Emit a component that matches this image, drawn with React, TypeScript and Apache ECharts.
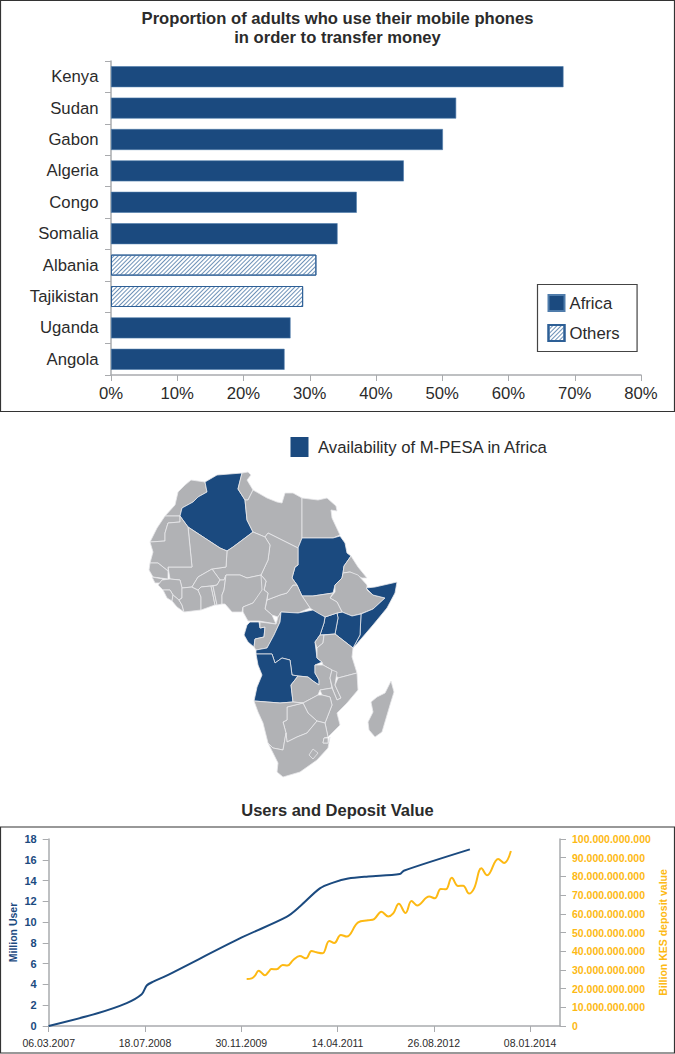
import React, { useEffect, useRef } from "react";
import * as echarts from "echarts";

const BLUE = "#1b4a7f";
const YELLOW = "#fdb913";
const GREY = "#b1b2b5";
const AXIS = "#a9abae";
const INK = "#2b2b2b";
const FONT = "'Liberation Sans', Arial, sans-serif";

const countries = ["Kenya", "Sudan", "Gabon", "Algeria", "Congo", "Somalia", "Albania", "Tajikistan", "Uganda", "Angola"];
const africaValues = [68.3, 52.1, 50.1, 44.2, 37.1, 34.2, null, null, 27.1, 26.2];
const otherValues = [null, null, null, null, null, null, 31.0, 29.0, null, null];

const dateLabels = ["06.03.2007", "18.07.2008", "30.11.2009", "14.04.2011", "26.08.2012", "08.01.2014"];
const dateTicks = [0, 500, 1000, 1500, 2000, 2500];

const userDays = [0, 249, 405, 483, 509, 543, 612, 1000, 1235, 1304, 1408, 1477, 1555, 1659, 1823, 1844, 2187];
const userValues = [0, 1.2, 2.2, 3.05, 3.9, 4.27, 4.85, 8.5, 10.5, 11.5, 13.25, 13.8, 14.2, 14.4, 14.63, 14.95, 17.0];

const depositDays = [1028, 1054, 1071, 1090, 1105, 1123, 1140, 1157, 1183, 1215, 1239, 1270, 1304, 1336, 1365, 1391, 1422, 1457, 1483, 1517, 1547, 1607, 1659, 1690, 1728, 1763, 1789, 1818, 1853, 1884, 1913, 1976, 2005, 2036, 2062, 2093, 2126, 2152, 2183, 2209, 2247, 2277, 2334, 2365, 2400];
const depositValues = [25.1, 25.5, 26.9, 29.6, 28.5, 27.1, 28.7, 30.5, 30.3, 32.6, 32.3, 35.3, 37.4, 36.2, 40.1, 39.4, 38.9, 45.5, 44.4, 48.7, 47.8, 55.4, 56.5, 57.2, 61.1, 58.6, 60.2, 65.4, 60.4, 66.8, 64.5, 69.2, 68.3, 73.3, 73.1, 79.3, 74.9, 75, 70.8, 73.6, 84.3, 80.6, 89.3, 87.2, 93.6];

const mpesaCountries = ["Algeria", "Sudan", "Somalia", "Kenya", "Uganda", "DR Congo", "Angola", "Gabon"];

const regions: Record<string, number[][]> = {
  Morocco: [[191,480],[205,482],[207,492],[198,497],[193,502],[182,508],[180,516],[165,516],[175,505],[178,492],[185,485]],
  "Western Sahara": [[165,516],[180,516],[180,522],[168,523],[165,533],[165,541],[150,542],[157,528]],
  Algeria: [[205,482],[217,475],[242,473],[238,489],[245,500],[247,520],[253,532],[233,547],[227,551],[220,548],[188,527],[180,516],[182,508],[193,502],[198,497],[207,492]],
  Tunisia: [[242,473],[248,472],[251,475],[247,480],[253,490],[248,500],[245,500],[238,489]],
  Libya: [[253,490],[267,498],[277,502],[282,503],[285,493],[293,493],[302,498],[302,538],[298,548],[268,533],[265,537],[253,532],[247,520],[245,500],[248,500]],
  Egypt: [[302,498],[318,500],[327,498],[336,506],[337,511],[331,510],[332,518],[340,535],[333,538],[302,538]],
  Sudan: [[302,538],[333,538],[340,536],[345,543],[347,553],[351,556],[344,566],[343,573],[342,578],[335,585],[333,593],[313,596],[302,596],[297,585],[292,578],[295,567],[298,565],[298,548]],
  Eritrea: [[351,556],[358,567],[367,578],[362,578],[350,572],[343,573],[344,566]],
  Ethiopia: [[343,573],[350,572],[358,575],[367,585],[367,590],[373,595],[385,598],[373,609],[360,614],[352,616],[342,612],[337,602],[330,598],[335,592],[335,585],[342,578]],
  Somalia: [[366,588],[375,587],[397,582],[395,593],[387,608],[373,625],[355,646],[353,648],[360,635],[361,614],[373,609],[385,598],[373,595]],
  Kenya: [[337,613],[342,612],[352,616],[361,614],[360,635],[353,648],[335,634],[338,618]],
  Uganda: [[325,617],[337,613],[338,618],[335,634],[320,635],[324,623]],
  "South Sudan": [[302,596],[313,596],[333,593],[330,598],[337,602],[342,612],[337,613],[325,617],[317,613],[310,608]],
  "Central African Republic": [[267,600],[280,595],[287,593],[293,585],[297,585],[302,596],[310,608],[298,613],[281,612],[278,617],[272,615],[265,609]],
  Chad: [[268,533],[298,548],[298,565],[295,567],[292,578],[297,585],[293,585],[287,593],[280,595],[267,600],[268,593],[264,590],[266,581],[261,575],[268,560],[270,545],[265,537]],
  Niger: [[227,551],[233,547],[253,532],[265,537],[270,545],[268,560],[261,575],[247,578],[240,575],[226,575],[224,580],[220,580],[212,569],[226,567]],
  Mali: [[188,527],[220,548],[227,551],[226,567],[212,569],[198,577],[192,587],[182,588],[180,580],[170,579],[168,567],[192,567]],
  Mauritania: [[180,522],[180,516],[188,527],[192,567],[168,567],[168,571],[158,563],[150,563],[153,552],[150,542],[165,541],[165,533],[168,523]],
  Senegal: [[150,563],[158,563],[168,571],[168,579],[153,577],[149,570]],
  "Guinea-Bissau": [[152,577],[163,579],[160,583],[155,583]],
  Guinea: [[162,580],[170,579],[180,580],[182,588],[182,598],[179,600],[173,595],[170,590],[163,590],[158,585]],
  "Sierra Leone": [[163,590],[170,590],[173,595],[172,601],[167,598]],
  Liberia: [[172,601],[173,595],[179,600],[182,605],[184,612],[177,607]],
  "Ivory Coast": [[182,588],[192,587],[198,590],[201,597],[201,610],[184,612],[182,605],[179,600],[182,598]],
  "Burkina Faso": [[192,587],[198,577],[212,569],[220,580],[217,585],[211,586],[201,587],[198,590]],
  Ghana: [[201,587],[211,586],[213,595],[215,605],[201,610],[201,597],[198,590]],
  Togo: [[211,586],[213,586],[217,605],[215,605],[213,595]],
  Benin: [[213,586],[217,585],[220,580],[224,580],[226,575],[224,590],[222,595],[222,604],[217,605]],
  Nigeria: [[224,590],[226,575],[240,575],[247,578],[261,575],[266,581],[264,590],[253,603],[243,607],[242,612],[232,612],[225,604],[222,604],[222,595]],
  Cameroon: [[261,575],[266,581],[264,590],[268,593],[265,609],[272,615],[276,624],[259,621],[248,621],[243,612],[243,607],[253,603],[262,590]],
  Gabon: [[247,625],[250,622],[259,622],[260,628],[265,627],[264,637],[255,639],[254,647],[248,642],[244,635]],
  Congo: [[260,622],[276,624],[278,617],[281,612],[280,622],[274,635],[267,648],[256,650],[254,647],[255,639],[264,637],[265,627],[260,628]],
  "DR Congo": [[281,612],[298,613],[313,610],[318,613],[325,617],[324,623],[320,635],[315,642],[317,658],[322,662],[315,665],[315,673],[319,680],[319,685],[313,681],[308,677],[298,676],[292,675],[290,660],[282,658],[275,663],[272,654],[256,654],[256,650],[267,648],[274,635],[280,622]],
  Angola: [[256,654],[272,654],[275,663],[282,658],[290,660],[292,675],[298,676],[291,685],[293,702],[280,703],[254,701],[257,687],[262,675],[258,665]],
  "Rwanda and Burundi": [[320,635],[324,635],[323,643],[317,648],[315,642]],
  Tanzania: [[335,634],[353,648],[352,657],[357,673],[338,678],[332,670],[323,665],[322,662],[317,658],[317,648],[323,643],[324,635]],
  Zambia: [[315,665],[323,665],[332,670],[330,678],[332,688],[320,690],[318,695],[303,703],[293,702],[291,685],[298,676],[308,677],[313,681],[319,685],[319,680],[315,673]],
  Malawi: [[332,670],[337,672],[335,685],[341,698],[337,700],[333,690],[330,678]],
  Mozambique: [[338,678],[357,673],[358,690],[347,703],[337,713],[340,725],[330,735],[328,737],[325,723],[332,705],[330,697],[322,695],[320,690],[332,688],[337,700],[341,698],[335,685]],
  Zimbabwe: [[303,703],[318,695],[322,695],[330,697],[332,705],[325,723],[317,721],[308,713]],
  Botswana: [[287,707],[303,703],[308,713],[317,721],[307,733],[297,737],[287,742],[286,733],[283,722],[287,720]],
  Namibia: [[254,701],[280,703],[293,702],[303,703],[287,707],[287,720],[283,722],[286,733],[283,750],[273,748],[268,743],[263,723],[258,712]],
  "South Africa": [[268,743],[273,748],[283,750],[286,733],[287,742],[297,737],[307,733],[317,721],[325,723],[328,737],[324,738],[323,743],[328,743],[330,737],[328,748],[317,760],[300,772],[283,777],[277,772],[278,763]],
  Lesotho: [[313,749],[318,753],[313,759],[309,755]],
  Eswatini: [[324,738],[328,738],[328,743],[323,743]],
  Madagascar: [[391,681],[394,692],[390,705],[382,732],[375,737],[369,730],[368,722],[373,712],[371,702],[377,697],[385,693]],
};

function buildGeo() {
  return {
    type: "FeatureCollection",
    features: Object.keys(regions).map((name) => ({
      type: "Feature",
      properties: { name },
      geometry: {
        type: "Polygon",
        coordinates: [[...regions[name], regions[name][0]].map(([x, y]) => [x, -y])],
      },
    })),
  };
}

export default function App() {
  const ref = useRef<HTMLDivElement>(null);
  useEffect(() => {
    document.body.style.margin = "0";
    echarts.registerMap("africa", buildGeo() as any);
    const chart = echarts.init(ref.current!, null, { renderer: "svg" });
    chart.setOption({
      animation: false,
      textStyle: { fontFamily: FONT },
      title: [
        {
          text: "Proportion of adults who use their mobile phones\nin order to transfer money",
          left: 332.5, top: 4, textAlign: "center",
          textStyle: { fontFamily: FONT, fontSize: 16.6, fontWeight: "bold", color: INK, lineHeight: 19 },
        },
        {
          text: "Users and Deposit Value",
          left: 332.5, top: 796, textAlign: "center",
          textStyle: { fontFamily: FONT, fontSize: 16.5, fontWeight: "bold", color: INK },
        },
      ],
      legend: {
        data: [{ name: "Africa", icon: "rect" }, { name: "Others", icon: "rect" }],
        orient: "vertical",
        left: 537.5, top: 284.5,
        padding: [9.5, 17.5, 9.5, 10],
        itemWidth: 16, itemHeight: 16, itemGap: 12,
        backgroundColor: "#fff",
        borderColor: "#444", borderWidth: 1.2,
        selectedMode: false,
        textStyle: { fontFamily: FONT, fontSize: 16.7, color: INK },
      },
      graphic: [
        { type: "rect", z: -10, shape: { x: 0.5, y: 0.5, width: 674, height: 411 }, style: { fill: "none", stroke: "#333", lineWidth: 1.2 } },
        { type: "rect", z: -10, shape: { x: 0.5, y: 827, width: 674, height: 226 }, style: { fill: "none", stroke: "#333", lineWidth: 1.2 } },
        { type: "rect", shape: { x: 290.5, y: 437, width: 18, height: 20 }, style: { fill: BLUE } },
        { type: "text", x: 318, y: 447, style: { text: "Availability of M-PESA in Africa", fontFamily: FONT, fontSize: 16.7, fill: INK, textVerticalAlign: "middle" } },
      ],
      grid: [
        { left: 111, top: 61, width: 530, height: 314, outerBoundsMode: "none" },
        { left: 48.7, top: 839, width: 511.3, height: 187, outerBoundsMode: "none" },
      ],
      xAxis: [
        {
          type: "value", gridIndex: 0, min: 0, max: 80, interval: 10,
          axisLine: { show: true, onZero: false, lineStyle: { color: AXIS, width: 1.5 } },
          axisTick: { show: true, length: 6, lineStyle: { color: AXIS } },
          splitLine: { show: false },
          axisLabel: { formatter: "{value}%", fontSize: 16.7, color: INK, margin: 10, fontFamily: FONT },
        },
        {
          type: "value", gridIndex: 1, min: 0, max: 2655,
          axisLine: { show: true, onZero: false, lineStyle: { color: AXIS, width: 1.5 } },
          axisTick: { show: true, length: 6, lineStyle: { color: AXIS }, customValues: dateTicks },
          splitLine: { show: false },
          axisLabel: {
            customValues: dateTicks,
            formatter: (v: number) => dateLabels[dateTicks.indexOf(v)] ?? "",
            fontSize: 10.5, color: INK, margin: 11, fontFamily: FONT,
          },
        },
      ],
      yAxis: [
        {
          type: "category", gridIndex: 0, data: countries, inverse: true,
          axisLine: { show: true, lineStyle: { color: AXIS, width: 1.5 } },
          axisTick: { show: true, length: 6, alignWithLabel: false, lineStyle: { color: AXIS } },
          axisLabel: { fontSize: 16.7, color: INK, margin: 12.5, fontFamily: FONT },
        },
        {
          type: "value", gridIndex: 1, min: 0, max: 18, interval: 2,
          name: "Million User", nameLocation: "middle", nameGap: 30, nameRotate: 90, nameMoveOverlap: false,
          nameTextStyle: { color: BLUE, fontSize: 10.5, fontWeight: "bold", fontFamily: FONT },
          axisLine: { show: true, lineStyle: { color: AXIS, width: 1.5 } },
          axisTick: { show: true, length: 6, lineStyle: { color: AXIS } },
          splitLine: { show: false },
          axisLabel: { color: BLUE, fontSize: 11, fontWeight: "bold", margin: 12, fontFamily: FONT },
        },
        {
          type: "value", gridIndex: 1, position: "right", min: 0, max: 100, interval: 10,
          name: "Billion KES deposit value", nameLocation: "middle", nameGap: 97, nameRotate: 90, nameMoveOverlap: false,
          nameTextStyle: { color: YELLOW, fontSize: 10.5, fontWeight: "bold", fontFamily: FONT },
          axisLine: { show: true, lineStyle: { color: AXIS, width: 1.5 } },
          axisTick: { show: true, length: 6, lineStyle: { color: AXIS } },
          splitLine: { show: false },
          axisLabel: {
            color: YELLOW, fontSize: 10.5, fontWeight: "bold", margin: 12, fontFamily: FONT,
            formatter: (v: number) => (v === 0 ? "0" : `${v}.000.000.000`),
          },
        },
      ],
      series: [
        {
          type: "bar", name: "Africa", xAxisIndex: 0, yAxisIndex: 0, stack: "share",
          data: africaValues, barWidth: 21,
          itemStyle: { color: BLUE, borderColor: "#4f7cab", borderWidth: 0.6 },
          silent: true,
        },
        {
          type: "bar", name: "Others", xAxisIndex: 0, yAxisIndex: 0, stack: "share",
          data: otherValues, barWidth: 21,
          itemStyle: {
            color: "#fff", borderColor: "#2d5f96", borderWidth: 1,
            decal: { symbol: "rect", symbolSize: 1, dashArrayX: [1, 0], dashArrayY: [1, 1.2], rotation: -Math.PI / 4, color: "#6e92b8" },
          },
          silent: true,
        },
        {
          type: "line", name: "Million User", xAxisIndex: 1, yAxisIndex: 1,
          data: userDays.map((d, i) => [d, userValues[i]]),
          smooth: 0.3, showSymbol: false, lineStyle: { color: BLUE, width: 2 }, silent: true,
        },
        {
          type: "line", name: "Billion KES deposit value", xAxisIndex: 1, yAxisIndex: 2,
          data: depositDays.map((d, i) => [d, depositValues[i]]),
          smooth: 0.4, showSymbol: false, lineStyle: { color: YELLOW, width: 2 }, silent: true,
        },
        {
          type: "map", map: "africa", silent: true, roam: false, aspectScale: 1,
          showLegendSymbol: false,
          left: 149, top: 472, width: 248, height: 305,
          label: { show: false },
          itemStyle: { areaColor: GREY, borderColor: "#e9e9eb", borderWidth: 0.8 },
          data: Object.keys(regions).map((name) => ({
            name,
            value: mpesaCountries.includes(name) ? 1 : 0,
            itemStyle: { areaColor: mpesaCountries.includes(name) ? BLUE : GREY },
          })),
        },
      ],
    });
    return () => chart.dispose();
  }, []);
  return <div ref={ref} style={{ position: "absolute", left: 0, top: 0, width: 675, height: 1054 }} />;
}
